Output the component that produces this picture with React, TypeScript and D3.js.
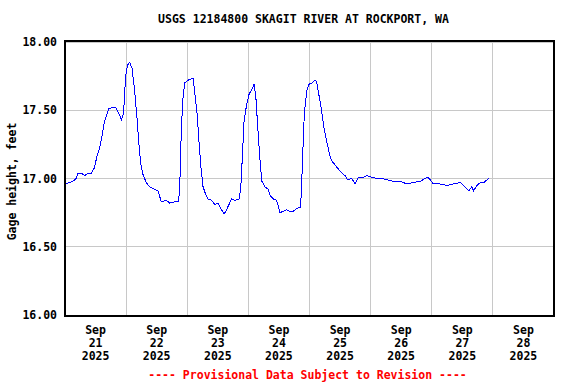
import React from 'react'
import * as d3 from 'd3'

const title = 'USGS 12184800 SKAGIT RIVER AT ROCKPORT, WA'
const yLabel = 'Gage height, feet'
const footer = '---- Provisional Data Subject to Revision ----'

// hours since Sep 21 2025 00:00
const hoursSinceStart = [
  0.2, 3.1, 4.4, 5.0, 6.4, 7.7, 9.0, 10.3, 11.6, 12.5, 13.6, 14.5, 15.3, 16.2,
  17.2, 18.8, 19.9, 20.8, 22.2, 23.0, 23.4, 23.8, 24.5, 25.4, 26.3, 27.3, 28.2,
  29.0, 29.7, 30.6, 31.9, 33.2, 35.2, 36.5, 37.8, 39.8, 41.1, 43.1, 44.4, 45.0,
  45.7, 46.3, 47.0, 48.3, 49.7, 50.3, 50.9, 51.9, 52.6, 53.4, 54.2, 55.3, 56.2,
  57.5, 58.8, 60.1, 61.5, 62.5, 63.4, 64.4, 65.4, 66.7, 68.4, 69.0, 69.7, 70.3,
  71.3, 72.3, 73.3, 74.2, 74.9, 75.6, 76.5, 77.3, 78.5, 79.8, 80.7, 81.8, 83.1,
  84.4, 85.7, 87.0, 88.3, 89.6, 91.0, 92.5, 92.9, 93.6, 94.0, 94.4, 94.9, 95.7,
  96.9, 98.2, 98.8, 99.9, 100.8, 101.7, 102.8, 103.8, 104.7, 106.0, 107.3,
  108.7, 110.0, 110.9, 112.6, 113.9, 115.2, 117.2, 118.5, 120.5, 122.4, 124.4,
  126.4, 129.0, 131.6, 134.2, 136.8, 139.5, 141.4, 142.3, 143.4, 144.7, 147.3,
  150.0, 152.6, 155.2, 156.5, 158.5, 159.8, 160.4, 161.8, 163.1, 164.4, 165.7,
  166.3,
]

const gageHeight = [
  16.96, 16.98, 17.0, 17.04, 17.04, 17.02, 17.04, 17.04, 17.08, 17.16, 17.22,
  17.31, 17.4, 17.46, 17.51, 17.52, 17.52, 17.49, 17.43, 17.48, 17.61, 17.75,
  17.83, 17.85, 17.81, 17.65, 17.46, 17.26, 17.11, 17.03, 16.97, 16.94, 16.92,
  16.91, 16.83, 16.84, 16.82, 16.83, 16.83, 16.9, 17.38, 17.58, 17.7, 17.72,
  17.73, 17.73, 17.64, 17.47, 17.27, 17.08, 16.94, 16.88, 16.85, 16.84, 16.81,
  16.82, 16.77, 16.74, 16.77, 16.81, 16.85, 16.84, 16.85, 16.93, 17.18, 17.42,
  17.54, 17.62, 17.65, 17.69, 17.61, 17.4, 17.15, 16.98, 16.94, 16.92, 16.87,
  16.85, 16.84, 16.75, 16.76, 16.77, 16.76, 16.76, 16.78, 16.79, 16.95, 17.3,
  17.49, 17.55, 17.64, 17.69, 17.7, 17.72, 17.71, 17.59, 17.49, 17.37, 17.27,
  17.18, 17.13, 17.1, 17.07, 17.04, 17.02, 16.99, 17.0, 16.96, 17.01, 17.01,
  17.02, 17.01, 17.0, 17.0, 16.99, 16.98, 16.98, 16.96, 16.97, 16.98, 17.0,
  17.01, 16.99, 16.96, 16.96, 16.95, 16.96, 16.97, 16.95, 16.91, 16.94, 16.91,
  16.95, 16.97, 16.97, 16.99, 17.0,
]

const yTicks = [16.0, 16.5, 17.0, 17.5, 18.0]
const dayLabels = ['21', '22', '23', '24', '25', '26', '27', '28']
const monthLabel = 'Sep'
const yearLabel = '2025'

const start = new Date(2025, 8, 21)
const end = new Date(2025, 8, 29)

const W = 576
const H = 384
const margin = { top: 41, right: 22, bottom: 68, left: 65 }
const font = '"DejaVu Sans Mono", monospace'

export default function App() {
  const x = d3
    .scaleTime()
    .domain([start, end])
    .range([margin.left, W - margin.right])
  const y = d3
    .scaleLinear()
    .domain([16, 18])
    .range([H - margin.bottom - 1, margin.top + 1])

  const points = hoursSinceStart.map((h, i) => ({
    date: d3.timeMinute.offset(start, Math.round(h * 60)),
    value: gageHeight[i],
  }))

  const line = d3
    .line<{ date: Date; value: number }>()
    .x((d) => x(d.date))
    .y((d) => y(d.value))

  const midnights = d3.timeDay.range(d3.timeDay.offset(start, 1), end)
  const noons = dayLabels.map((_, i) =>
    d3.timeHour.offset(d3.timeDay.offset(start, i), 12),
  )

  const plotTop = margin.top
  const plotBottom = H - margin.bottom
  const plotLeft = margin.left
  const plotRight = W - margin.right
  const cx = (plotLeft + plotRight) / 2

  return (
    <div style={{ position: 'fixed', left: 0, top: 0 }}>
      <svg width={W} height={H} style={{ display: 'block', background: '#fff' }}>
        <text
          x={cx - 6}
          y={23}
          textAnchor="middle"
          fontFamily={font}
          fontWeight="bold"
          fontSize={11.5}
        >
          {title}
        </text>

        <g stroke="#c8c8c8" strokeWidth={1} shapeRendering="crispEdges">
          {midnights.map((d, i) => (
            <line key={'v' + i} x1={x(d)} x2={x(d)} y1={plotTop} y2={plotBottom} />
          ))}
          {yTicks.map((t) => (
            <line key={'h' + t} x1={plotLeft} x2={plotRight} y1={y(t)} y2={y(t)} />
          ))}
        </g>

        <path
          d={line(points) ?? ''}
          fill="none"
          stroke="#0000ff"
          strokeWidth={1}
          shapeRendering="crispEdges"
        />

        <rect
          x={plotLeft}
          y={plotTop}
          width={plotRight - plotLeft}
          height={plotBottom - plotTop}
          fill="none"
          stroke="#000"
          strokeWidth={1.5}
          shapeRendering="crispEdges"
        />

        <g fontFamily={font} fontWeight="bold" fontSize={11.5}>
          {yTicks.map((t) => (
            <text key={'yt' + t} x={plotLeft - 8} y={y(t) + 4} textAnchor="end">
              {t.toFixed(2)}
            </text>
          ))}
          {noons.map((d, i) => (
            <text key={'xt' + i} x={x(d)} y={334} textAnchor="middle">
              <tspan x={x(d)} dy={0}>
                {monthLabel}
              </tspan>
              <tspan x={x(d)} dy={13}>
                {dayLabels[i]}
              </tspan>
              <tspan x={x(d)} dy={13}>
                {yearLabel}
              </tspan>
            </text>
          ))}
          <text
            transform={`translate(16,${(plotTop + plotBottom) / 2 + 3}) rotate(-90)`}
            textAnchor="middle"
          >
            {yLabel}
          </text>
          <text x={cx - 2} y={379} textAnchor="middle" fill="#ff0000">
            {footer}
          </text>
        </g>
      </svg>
    </div>
  )
}
